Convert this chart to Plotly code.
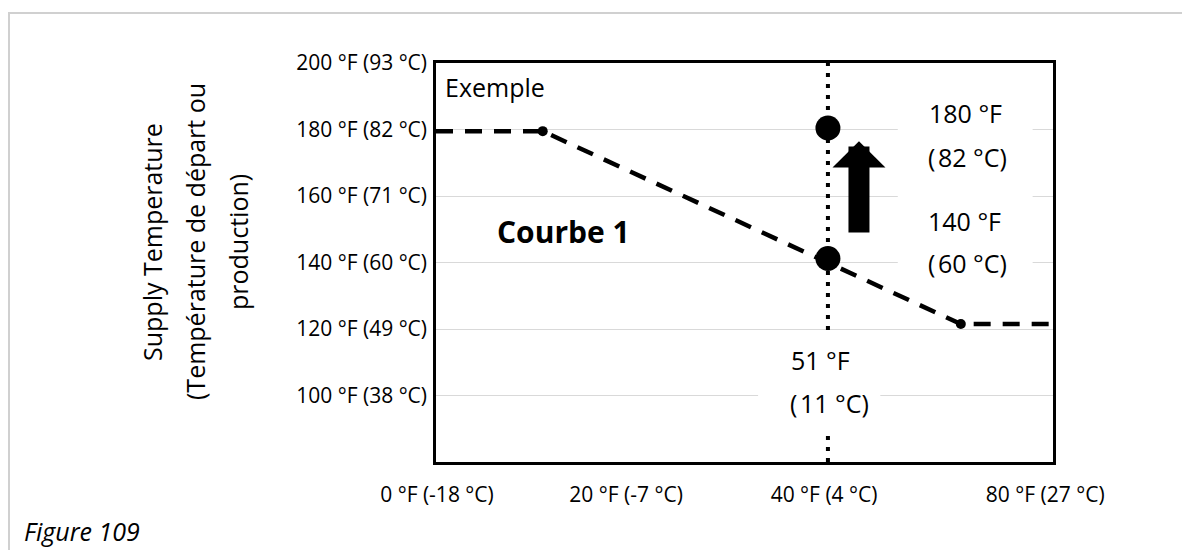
import plotly.graph_objects as go

# ---------------- data ----------------
x_tick_pos = [0.1, 19.6, 40.0, 62.8]
x_tick_text = ["0 °F (-18 °C)", "20 °F (-7 °C)", "40 °F (4 °C)", "80 °F (27 °C)"]
y_tick_pos = [100, 120, 140, 160, 180, 200]
y_tick_text = ["100 °F (38 °C)", "120 °F (49 °C)", "140 °F (60 °C)",
               "160 °F (71 °C)", "180 °F (82 °C)", "200 °F (93 °C)"]

curve_x = [0.0, 11.0, 54.1, 63.6]
curve_y = [179.5, 179.5, 121.5, 121.5]
break_x = [11.0, 54.1]
break_y = [179.5, 121.5]

outdoor_x = 40.4            # 51 °F (11 °C) marker position
supply_y = [180.45, 141.2]  # 180 °F and 140 °F points
arrow_x = 43.6
arrow_from = 148.6
arrow_to = 176.5

X_RANGE = [0, 63.6]
Y_RANGE = [80, 200]

FONT = "Open Sans"

fig = go.Figure()

# dotted vertical line at outdoor temperature
fig.add_trace(go.Scatter(
    x=[outdoor_x, outdoor_x], y=Y_RANGE, mode="lines",
    line=dict(color="black", width=4, dash="4px,7px"),
    showlegend=False, hoverinfo="skip"))

# dashed reset curve
fig.add_trace(go.Scatter(
    x=curve_x, y=curve_y, mode="lines",
    line=dict(color="black", width=4.5, dash="17px,12px"),
    showlegend=False, hoverinfo="skip"))

# breakpoints
fig.add_trace(go.Scatter(
    x=break_x, y=break_y, mode="markers",
    marker=dict(color="black", size=10),
    showlegend=False, hoverinfo="skip"))

# big example points
fig.add_trace(go.Scatter(
    x=[outdoor_x, outdoor_x], y=supply_y, mode="markers",
    marker=dict(color="black", size=25),
    showlegend=False, hoverinfo="skip"))

# white masks behind the value labels (hide gridlines / dotted line)
fig.add_shape(type="rect", xref="x", yref="y", x0=47.6, x1=61.5, y0=133.2, y1=188.9,
              fillcolor="white", line=dict(width=0), layer="above")
fig.add_shape(type="rect", xref="x", yref="y", x0=33.2, x1=45.8, y0=89.6, y1=118.8,
              fillcolor="white", line=dict(width=0), layer="above")

# page has an 8px body margin: figure is placed at (8, 8)
OFF = 8
W, H = 1190 - OFF, 550 - OFF
L, T = 436 - OFF, 63 - OFF
pw, ph = 617, 399
R, B = W - L - pw, H - T - ph


def px(xp):
    return (xp - OFF - L) / pw


def py(yp):
    return (T + ph - (yp - OFF)) / ph


# outer light frame
fig.add_shape(type="rect", xref="paper", yref="paper",
              x0=px(OFF + 1), x1=px(1210), y0=py(580), y1=py(13),
              line=dict(color="#d0d0d0", width=2), fillcolor="rgba(0,0,0,0)", layer="below")

ann = []
# arrow
ann.append(dict(x=arrow_x, y=arrow_to, ax=arrow_x, ay=arrow_from, xref="x", yref="y",
                axref="x", ayref="y", text="", showarrow=True, arrowhead=1,
                arrowsize=0.42, arrowwidth=21, arrowcolor="black"))

tf = dict(family=FONT, size=25, color="black")
HS = "\u200a"
ann.append(dict(x=0.72, y=192.8, xref="x", yref="y", text="Exemple", showarrow=False,
                xanchor="left", yanchor="middle", font=tf))
ann.append(dict(x=6.08, y=149.2, xref="x", yref="y", text="<b>Courbe 1</b>", showarrow=False,
                xanchor="left", yanchor="middle", font=dict(family=FONT, size=30, color="black")))
ann.append(dict(x=54.6, y=185.0, xref="x", yref="y", text="180 °F", showarrow=False,
                xanchor="center", yanchor="middle", font=tf))
ann.append(dict(x=54.8, y=171.7, xref="x", yref="y", text="(" + HS + "82 °C)", showarrow=False,
                xanchor="center", yanchor="middle", font=tf))
ann.append(dict(x=54.5, y=152.5, xref="x", yref="y", text="140 °F", showarrow=False,
                xanchor="center", yanchor="middle", font=tf))
ann.append(dict(x=54.8, y=139.8, xref="x", yref="y", text="(" + HS + "60 °C)", showarrow=False,
                xanchor="center", yanchor="middle", font=tf))
ann.append(dict(x=36.4, y=110.7, xref="x", yref="y", text="51 °F", showarrow=False,
                xanchor="left", yanchor="middle", font=tf))
ann.append(dict(x=36.3, y=97.7, xref="x", yref="y", text="(" + HS + "11 °C)", showarrow=False,
                xanchor="left", yanchor="middle", font=tf))

# y-axis title (three rotated lines)
for xp, line in [(152, "Supply Temperature"), (195, "(Température de départ ou"), (238, "production)")]:
    ann.append(dict(x=px(xp), y=py(242), xref="paper", yref="paper", text=line,
                    textangle=-90, showarrow=False, xanchor="center", yanchor="middle", font=tf))

# caption
ann.append(dict(x=px(22), y=py(531), xref="paper", yref="paper", text="<i>Figure 109</i>",
                showarrow=False, xanchor="left", yanchor="middle",
                font=dict(family=FONT, size=25, color="black")))

fig.update_layout(
    width=W, height=H,
    margin=dict(l=L, r=R, t=T, b=B, pad=0),
    paper_bgcolor="white", plot_bgcolor="white",
    annotations=ann,
    font=dict(family=FONT, color="black"),
    xaxis=dict(range=X_RANGE, tickmode="array", tickvals=x_tick_pos, ticktext=x_tick_text,
               showgrid=False, zeroline=False, showline=True, linecolor="black",
               linewidth=2.5, mirror=True, ticks="", ticklabelstandoff=12,
               tickfont=dict(family=FONT, size=21, color="black")),
    yaxis=dict(range=Y_RANGE, tickmode="array", tickvals=y_tick_pos, ticktext=y_tick_text,
               showgrid=True, gridcolor="#d9d9d9", gridwidth=1.3, zeroline=False,
               showline=True, linecolor="black", linewidth=2.5, mirror=True, ticks="",
               ticklabelstandoff=2, tickfont=dict(family=FONT, size=21, color="black")),
)

fig.write_html("out.html")
